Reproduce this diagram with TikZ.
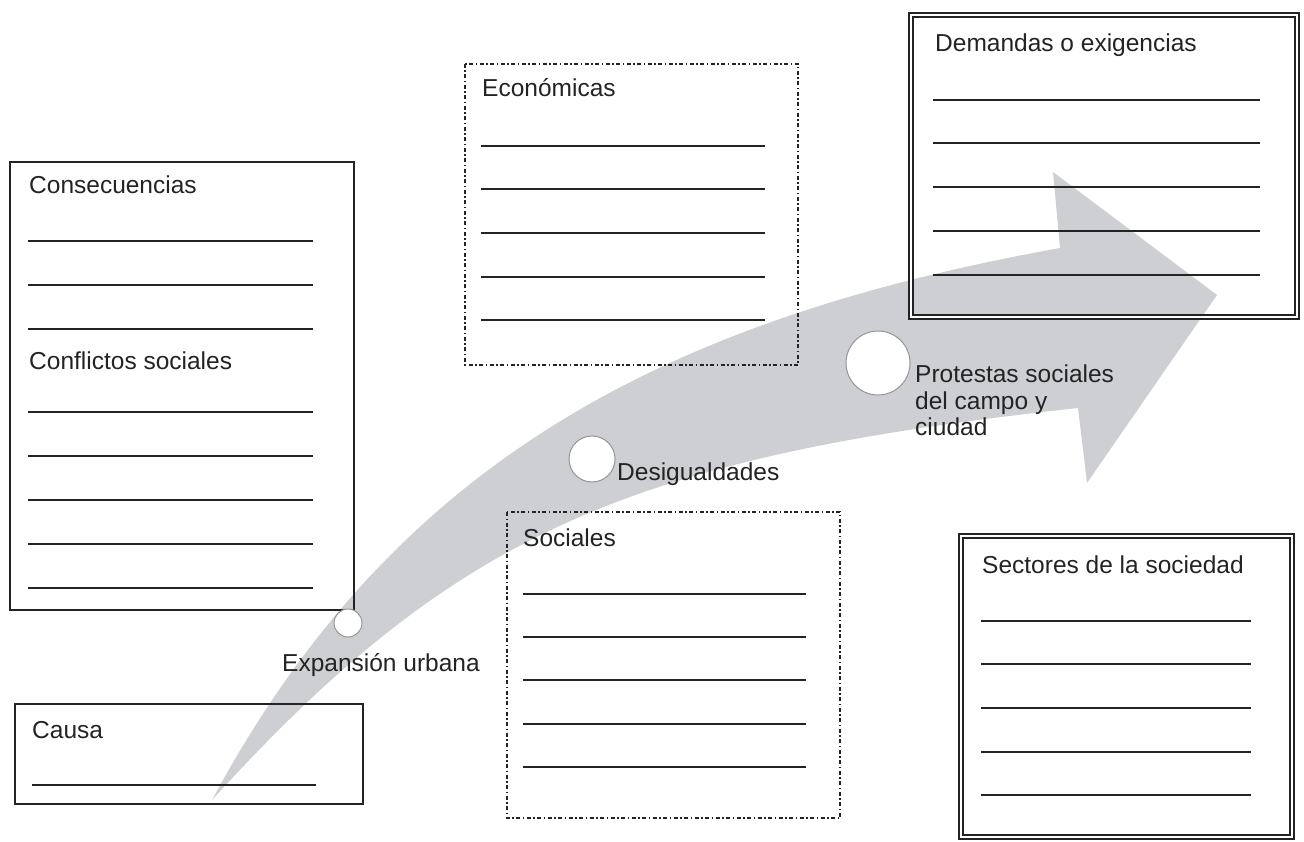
\documentclass[tikz,border=0pt]{standalone}
\usepackage{fontspec}
\setmainfont{Liberation Sans}
\usepackage{xcolor}
\definecolor{arrowGray}{RGB}{206,207,211}
\definecolor{inkGray}  {RGB}{ 35, 35, 35}
\definecolor{ringGray} {RGB}{150,150,150}

\begin{document}
\begin{tikzpicture}[x=1pt,y=-1pt,
    boxText/.style={anchor=base west,inner sep=0pt,text=inkGray,font=\fontsize{24.5}{26.5}\selectfont},
    writeLine/.style={inkGray,line width=1.6pt},
    plainBox/.style={draw=inkGray,line width=1.5pt},
    dotBox/.style={draw=inkGray,line width=1.5pt,dash pattern=on 4pt off 2.5pt on 1.5pt off 2.5pt},
    doubleBox/.style={draw=inkGray,double=white,double distance=2.4pt,line width=1.5pt},
    stopCircle/.style={circle,draw=ringGray,fill=white,line width=1pt,inner sep=0pt}]
      \useasboundingbox (0,0) rectangle (1304,842);
      % curved gray arrow
      \fill[arrowGray] (212,800) .. controls (392,465) and (660,320) .. (1060,248)
        -- (1053,172) -- (1217,295) -- (1087,483) -- (1078,408)
        .. controls (630,457) and (456,532) .. (212,800) -- cycle;
      % boxes
      \draw[plainBox] (10,162) rectangle (354,610);
      \draw[plainBox] (15,704) rectangle (363,804);
      \draw[dotBox] (465,64) rectangle (798,365);
      \draw[dotBox] (507,512) rectangle (840,818);
      \draw[doubleBox] (911,15) rectangle (1297,317);
      \draw[doubleBox] (961,536) rectangle (1292,837);
      % lines to write on
      \foreach \y in {241,285,329,412,456,500,544,588}
        \draw[writeLine] (28,\y) -- (313,\y);
      \draw[writeLine] (32,785) -- (316,785);
      \foreach \y in {146,189,233,277,320}
        \draw[writeLine] (481,\y) -- (765,\y);
      \foreach \y in {594,637,680,724,767}
        \draw[writeLine] (523,\y) -- (806,\y);
      \foreach \y in {100,143,187,231,275}
        \draw[writeLine] (933,\y) -- (1260,\y);
      \foreach \y in {621,664,708,752,795}
        \draw[writeLine] (981,\y) -- (1251,\y);
      % box titles
      \node[boxText] (consec) at (29,194) {Consecuencias};
      \node[boxText] (conflict) at (29,369) {Conflictos sociales};
      \node[boxText] (causa) at (32,738) {Causa};
      \node[boxText] (econ) at (482,97) {Económicas};
      \node[boxText] (soc) at (523,546) {Sociales};
      \node[boxText] (demand) at (935,52) {Demandas o exigencias};
      \node[boxText] (sector) at (982,573) {Sectores de la sociedad};
      % stops on the arrow
      \node[stopCircle,minimum size=28pt] (expCircle) at (348,623) {};
      \node[stopCircle,minimum size=46pt] (desCircle) at (592,459) {};
      \node[stopCircle,minimum size=64pt] (proCircle) at (878,363) {};
      \node[boxText] (expLabel) at (282,671) {Expansión urbana};
      \node[boxText] (desLabel) at (617,480) {Desigualdades};
      \node[boxText,anchor=north west,align=left] (proLabel) at (915,365) {Protestas sociales\\del campo y\\ciudad};
    \end{tikzpicture}
\end{document}
